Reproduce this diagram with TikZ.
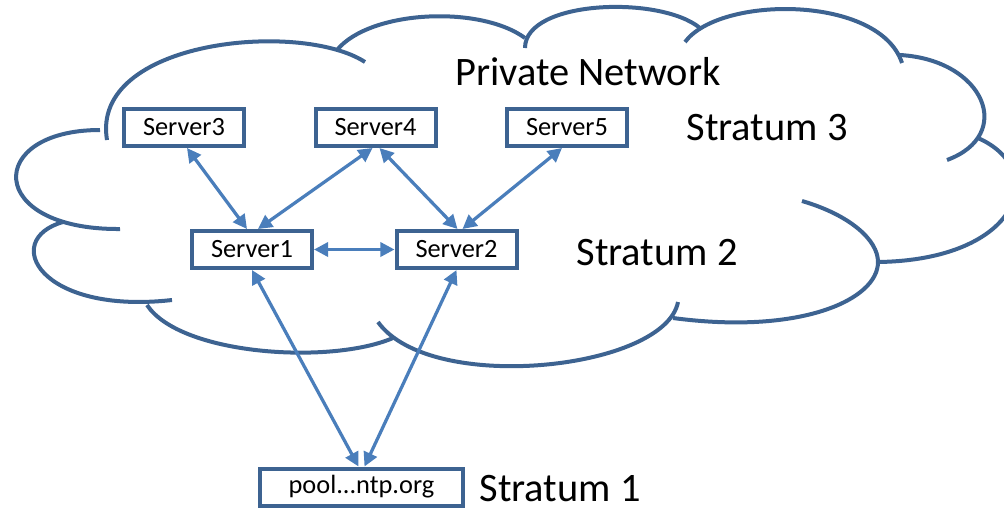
\documentclass[tikz,border=0pt]{standalone}
\usepackage{fontspec}
\setmainfont{Carlito}
\usetikzlibrary{arrows.meta}
\definecolor{cloudblue}{HTML}{3D6391}
\definecolor{linkblue}{HTML}{4A7EBB}
\begin{document}
\begin{tikzpicture}[x=0.2mm, y=-0.2mm,
		box/.style={rectangle, draw=cloudblue, line width=0.8mm, fill=white, minimum width=24mm, minimum height=7.4mm, inner sep=0pt, font=\fontsize{15}{18}\selectfont},
		link/.style={draw=linkblue, line width=0.65mm, {Triangle[length=8pt,width=8pt]}-{Triangle[length=8pt,width=8pt]}},
		lobe/.style={draw=cloudblue, line width=0.8mm},
		stratum/.style={inner sep=0pt, font=\fontsize{23}{27}\selectfont}
		]
		\useasboundingbox (0,0) rectangle (1004,510);
		% cloud outline, one lobe after another
		\draw[lobe] (107,140) .. controls (90,40) and (300,20) .. (365,62);
		\draw[lobe] (337,50) .. controls (370,10) and (480,5) .. (525,38);
		\draw[lobe] (525,48) .. controls (525,0) and (660,-5) .. (700,28);
		\draw[lobe] (685,42) .. controls (720,-5) and (880,-5) .. (902,63);
		\draw[lobe] (900,55) .. controls (985,60) and (1015,135) .. (947,160);
		\draw[lobe] (978,138) .. controls (1050,170) and (1020,260) .. (878,262);
		\draw[lobe] (802,201) .. controls (850,215) and (878,240) .. (878,262)
			.. controls (878,300) and (800,335) .. (673,318);
		\draw[lobe] (678,302) .. controls (665,370) and (430,395) .. (378,322);
		\draw[lobe] (393,338) .. controls (330,365) and (180,355) .. (147,305);
		\draw[lobe] (172,300) .. controls (40,315) and (0,240) .. (63,222);
		\draw[lobe] (100,130) .. controls (-15,130) and (-15,230) .. (120,229);

		\node[stratum] (net) at (588,72) {Private Network};

		% stratum 3
		\node[box] (s3) at (184,127.5) {Server3};
		\node[box] (s4) at (375.5,127.5) {Server4};
		\node[box] (s5) at (567,127.5) {Server5};
		\node[stratum] (st3) at (767,128) {Stratum 3};

		% stratum 2
		\node[box] (s1) at (252,249.5) {Server1};
		\node[box] (s2) at (456.5,249.5) {Server2};
		\node[stratum] (st2) at (657,253) {Stratum 2};

		% stratum 1
		\node[box, minimum width=40.6mm] (pool) at (361.5,487) {pool...ntp.org};
		\node[stratum] (st1) at (560,489) {Stratum 1};

		\draw[link] ([xshift=0.6mm]s3.south) -- ([xshift=-1mm]s1.north);
		\draw[link] ([xshift=-0.6mm]s4.south) -- ([xshift=1.2mm]s1.north);
		\draw[link] ([xshift=0.8mm]s4.south) -- ([xshift=0.2mm]s2.north);
		\draw[link] ([xshift=-1mm]s5.south) -- ([xshift=1.2mm]s2.north);
		\draw[link] (s1.east) -- (s2.west);
		\draw[link] (s1.south) -- ([xshift=-0.6mm]pool.north);
		\draw[link] (s2.south) -- ([xshift=0.6mm]pool.north);
	\end{tikzpicture}
\end{document}
